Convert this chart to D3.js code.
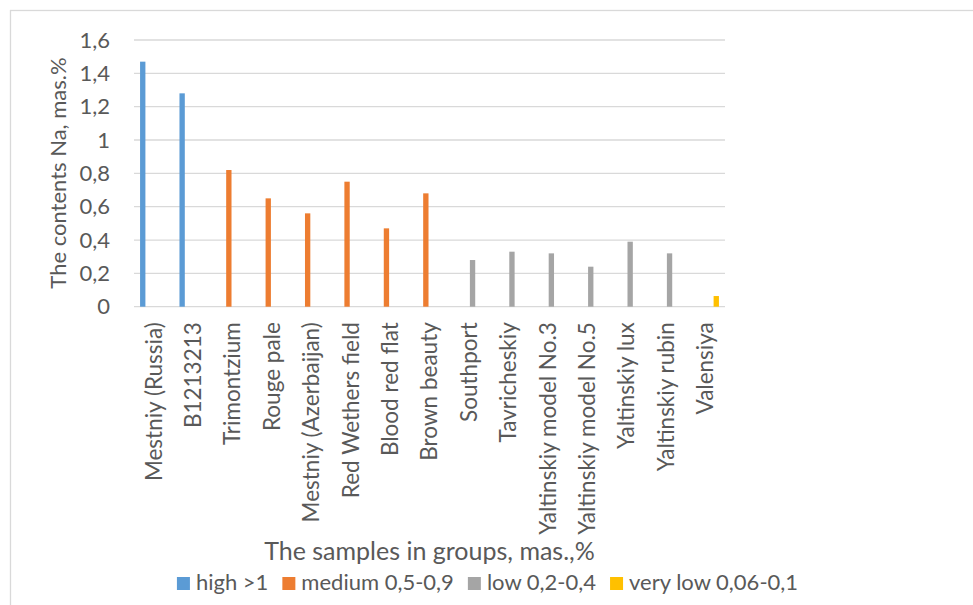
<!DOCTYPE html>
<html><head><meta charset="utf-8">
<script src="https://cdn.jsdelivr.net/npm/d3@7/dist/d3.min.js"></script>
<style>
body{margin:0;background:#fff}
text{font-family:Lato,"Open Sans",sans-serif;fill:#595959}
</style>
</head><body>
<svg id="chart" width="973" height="605"></svg>
<script>
const categories = ["Mestniy (Russia)","B1213213","Trimontzium","Rouge pale","Mestniy (Azerbaijan)","Red Wethers field","Blood red flat","Brown beauty","Southport","Tavricheskiy","Yaltinskiy model No.3","Yaltinskiy model No.5","Yaltinskiy lux","Yaltinskiy rubin","Valensiya"];
const seriesNames = ["high >1","medium 0,5-0,9","low 0,2-0,4","very low 0,06-0,1"];
const seriesColors = ["#5B9BD5","#ED7D31","#A5A5A5","#FFC000"];
const highValues    = [1.47,1.28,null,null,null,null,null,null,null,null,null,null,null,null,null];
const mediumValues  = [null,null,0.82,0.65,0.56,0.75,0.47,0.68,null,null,null,null,null,null,null];
const lowValues     = [null,null,null,null,null,null,null,null,0.28,0.33,0.32,0.24,0.39,0.32,null];
const veryLowValues = [null,null,null,null,null,null,null,null,null,null,null,null,null,null,0.064];
const yTicks = [0,0.2,0.4,0.6,0.8,1,1.2,1.4,1.6];
const yTitle = "The contents Na, mas.%";
const xTitle = "The samples in groups, mas.,%";

(function () {
const seriesValues = [highValues, mediumValues, lowValues, veryLowValues];
const bars = [];
seriesValues.forEach((vals, s) => vals.forEach((v, i) => {
  if (v != null) bars.push({cat: categories[i], series: seriesNames[s], value: v, color: seriesColors[s]});
}));

const svg = d3.select("#chart");
const pLeft = 134, pRight = 725, pTop = 40, pBottom = 306.7;
const FS = 22;

svg.append("rect").attr("x",10.5).attr("y",10.5).attr("width",1000).attr("height",700)
  .attr("fill","none").attr("stroke","#d9d9d9").attr("stroke-width",1.3);

const x = d3.scaleBand().domain(categories).range([pLeft, pRight]).padding(0);
const xs = d3.scaleBand().domain(seriesNames).range([0, x.bandwidth()]).paddingInner(0.27).paddingOuter(0.83);
const y = d3.scaleLinear().domain([0, 1.6]).range([pBottom, pTop]);

const fmt = v => d3.format("~g")(v).replace(".", ",");

svg.append("g").selectAll("line").data(yTicks).join("line")
  .attr("x1", pLeft).attr("x2", pRight)
  .attr("y1", d => y(d)).attr("y2", d => y(d))
  .attr("stroke", "#d9d9d9").attr("stroke-width", 1.3);

const yAxis = svg.append("g").attr("transform", `translate(${pLeft},0)`)
  .call(d3.axisLeft(y).tickValues(yTicks).tickSize(0).tickPadding(24).tickFormat(fmt));
yAxis.select(".domain").remove();
yAxis.attr("font-family", null).attr("font-size", null);
yAxis.selectAll("text").attr("font-size", FS).attr("fill", "#595959");

svg.append("g").selectAll("rect").data(bars).join("rect")
  .attr("x", d => x(d.cat) + xs(d.series))
  .attr("width", xs.bandwidth())
  .attr("y", d => y(d.value))
  .attr("height", d => y(0) - y(d.value))
  .attr("fill", d => d.color);

const xAxis = svg.append("g").attr("transform", `translate(0,${pBottom})`)
  .call(d3.axisBottom(x).tickSize(0));
xAxis.select(".domain").remove();
xAxis.attr("font-family", null).attr("font-size", null);
xAxis.selectAll("text")
  .attr("font-size", 22.5).attr("fill", "#595959")
  .attr("transform", "rotate(-90)")
  .attr("x", -15.5).attr("y", 0).attr("dy", "0.35em")
  .attr("text-anchor", "end");

svg.append("text").attr("transform", "translate(58,173) rotate(-90)")
  .attr("text-anchor", "middle").attr("dy", "0.35em").attr("font-size", FS).text(yTitle);
svg.append("text").attr("x", (pLeft + pRight) / 2).attr("y", 560)
  .attr("text-anchor", "middle").attr("font-size", 25).text(xTitle);

const lg = svg.append("g");
let cx = 0;
seriesNames.forEach((name, i) => {
  const g = lg.append("g").attr("transform", `translate(${cx},0)`);
  g.append("rect").attr("x", 0).attr("y", -13).attr("width", 13).attr("height", 13).attr("fill", seriesColors[i]);
  const t = g.append("text").attr("x", 19).attr("y", 0).attr("font-size", FS).text(name);
  cx += 19 + t.node().getComputedTextLength() + 14;
});
const lw = cx - 14;
lg.attr("transform", `translate(${487.5 - lw / 2},590)`);
})();
</script>
</body></html>
